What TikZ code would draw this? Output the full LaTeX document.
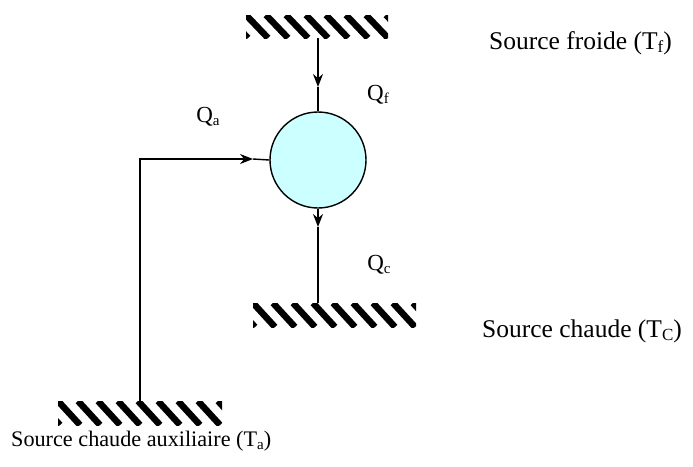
\documentclass[tikz,border=0pt]{standalone}
\usepackage{fontspec}
\setmainfont{Liberation Serif}
\usetikzlibrary{arrows.meta}
\definecolor{enginefill}{RGB}{204,255,255}
\tikzset{
  wire/.style={line width=1.4pt},
  arr/.style={wire,-{Stealth[length=13pt,width=10pt]}},
  lbl/.style={font=\fontsize{23}{26}\selectfont, inner sep=0pt},
  biglbl/.style={font=\fontsize{25.5}{28}\selectfont, inner sep=0pt},
  auxlbl/.style={font=\fontsize{22.2}{25}\selectfont, inner sep=0pt},
  engine/.style={circle, draw, line width=1.4pt, fill=enginefill, minimum size=96pt, inner sep=0pt}
}
\newcommand{\sbs}[1]{\raisebox{-0.3ex}{\fontsize{15}{16}\selectfont #1}}
\newcommand{\sbsb}[1]{\raisebox{-0.3ex}{\fontsize{17}{18}\selectfont #1}}
\newcommand{\hatchbar}[5]{% name, x0, y0, x1, y1
  \begin{scope}
    \clip (#2,#3) rectangle (#4,#5);
    \foreach \s in {-40,-20,...,200} {
      \draw[line width=6.5pt] ({#2+\s},#3) -- ({#2+\s+22},#5);
    }
  \end{scope}
  \coordinate (#1) at ({(#2+#4)/2},{(#3+#5)/2});
}
\begin{document}
\begin{tikzpicture}[x=1pt,y=-1pt]
\useasboundingbox (0,0) rectangle (693,466);
% bars
\hatchbar{topbar}{246}{15}{388}{38}
\hatchbar{midbar}{253}{303}{416}{327}
\hatchbar{auxbar}{58}{401}{222}{425}
% engine
\node[engine] (eng) at (318,160) {};
% coordinates
\coordinate (topc) at (318,38);
\coordinate (ta) at (318,87);
\coordinate (botc) at (318,303);
\coordinate (ba) at (318,227);
\coordinate (auxc) at (140,401);
\coordinate (corner) at (140,159);
\coordinate (la) at (253,159);
% connectors
\draw[arr] (topc) -- (ta);
\draw[wire] (ta) -- (eng.north);
\draw[arr] (eng.south) -- (ba);
\draw[wire] (ba) -- (botc);
\draw[arr] (auxc) -- (corner) -- (la);
\draw[wire] (la) -- (eng.west);
% labels
\node[lbl] (qf) at (378,95) {Q\sbs{f}};
\node[lbl] (qa) at (208,117) {Q\sbs{a}};
\node[lbl] (qc) at (379,265) {Q\sbs{c}};
\node[biglbl, anchor=west] (sf) at (489,43) {Source froide (T\sbsb{f})};
\node[biglbl, anchor=west] (sc) at (482,331) {Source chaude (T\sbsb{C})};
\node[auxlbl, anchor=west] (sa) at (11,441) {Source chaude auxiliaire (T\sbs{a})};
\end{tikzpicture}
\end{document}
